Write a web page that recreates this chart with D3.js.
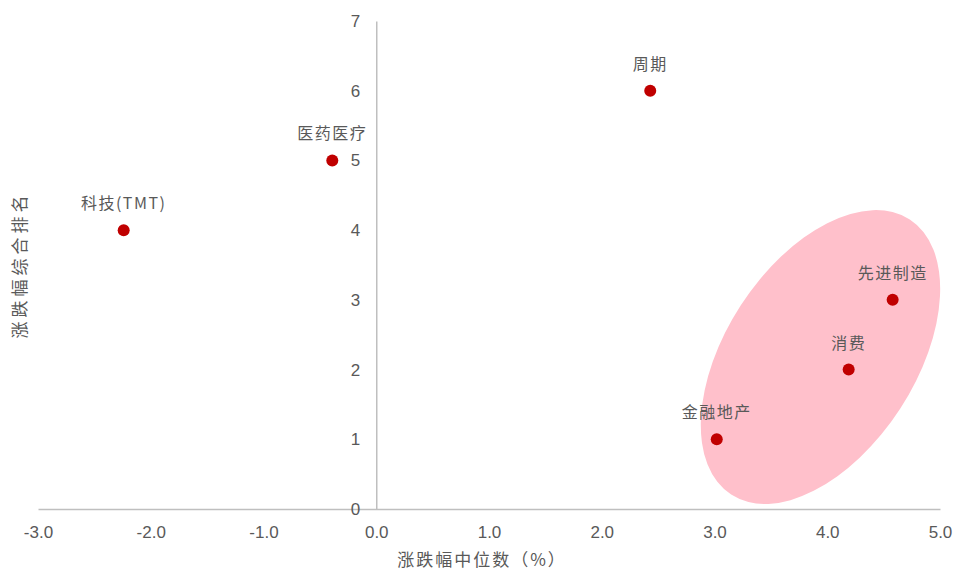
<!DOCTYPE html>
<html>
<head>
<meta charset="utf-8">
<script src="https://cdn.jsdelivr.net/npm/d3@7"></script>
<style>
  body { margin: 0; background: #fff; }
  svg { display: block; }
</style>
</head>
<body>
<div id="chart"></div>
<script>
const sectors = ["科技(TMT)", "医药医疗", "周期", "先进制造", "消费", "金融地产"];
const medianChange = [-2.24, -0.39, 2.43, 4.58, 4.19, 3.02];
const rankScore = [4, 5, 6, 3, 2, 1];
const xTicks = [-3, -2, -1, 0, 1, 2, 3, 4, 5];
const yTicks = [0, 1, 2, 3, 4, 5, 6, 7];
// highlighted group (center in data units)
const groupCenter = [3.94, 2.18];

const W = 957, H = 574;
const GREY = "#bfbfbf";
const TEXT = "#595959";
const RED = "#c00000";
const PINK = "#ffc0cb";

const svg = d3.select("#chart").append("svg")
    .attr("width", W)
    .attr("height", H);

const x = d3.scaleLinear().domain([-3, 5]).range([38, 940]);
const y = d3.scaleLinear().domain([0, 7]).range([509, 21]);

// highlight ellipse
svg.append("ellipse")
    .attr("cx", x(groupCenter[0]))
    .attr("cy", y(groupCenter[1]))
    .attr("rx", 164)
    .attr("ry", 95)
    .attr("transform", `rotate(-57 ${x(groupCenter[0])} ${y(groupCenter[1])})`)
    .attr("fill", PINK);

// axes cross at zero
let xAxis = svg.append("g")
    .attr("transform", `translate(0,${y(0)})`)
    .call(d3.axisBottom(x).tickValues(xTicks).tickSize(0)
        .tickFormat(d => d.toFixed(1)));
let yAxis = svg.append("g")
    .attr("transform", `translate(${x(0)},0)`)
    .call(d3.axisLeft(y).tickValues(yTicks).tickSize(0).tickPadding(16)
        .tickFormat(d => String(d)));

[xAxis, yAxis].forEach(a => {
    a.select(".domain").attr("stroke", GREY).attr("stroke-width", 1.5);
    a.selectAll("text")
        .attr("fill", TEXT)
        .style("font-family", "'Liberation Sans', Arial, sans-serif")
        .style("font-size", "17px");
});
xAxis.selectAll("text").attr("y", 17).attr("dy", "0.71em");

const data = sectors.map((s, i) => ({ name: s, x: medianChange[i], y: rankScore[i] }));

svg.append("g").selectAll("circle")
    .data(data)
    .join("circle")
    .attr("cx", d => x(d.x))
    .attr("cy", d => y(d.y))
    .attr("r", 6)
    .attr("fill", RED);

svg.append("g").selectAll("text")
    .data(data)
    .join("text")
    .attr("x", d => x(d.x))
    .attr("y", d => y(d.y) - 21)
    .attr("text-anchor", "middle")
    .attr("fill", TEXT)
    .style("font-family", "'Noto Sans CJK SC', sans-serif")
    .style("font-size", "16px")
    .style("letter-spacing", "1.5px")
    .text(d => d.name);

// axis titles
svg.append("text")
    .attr("x", 482)
    .attr("y", 566)
    .attr("text-anchor", "middle")
    .attr("fill", TEXT)
    .style("font-family", "'Noto Sans CJK SC', sans-serif")
    .style("font-size", "17px")
    .style("letter-spacing", "2px")
    .text("涨跌幅中位数（%）");

svg.append("text")
    .attr("transform", "translate(26,265) rotate(-90)")
    .attr("text-anchor", "middle")
    .attr("fill", TEXT)
    .style("font-family", "'Noto Sans CJK SC', sans-serif")
    .style("font-size", "17px")
    .style("letter-spacing", "4px")
    .text("涨跌幅综合排名");
</script>
</body>
</html>
